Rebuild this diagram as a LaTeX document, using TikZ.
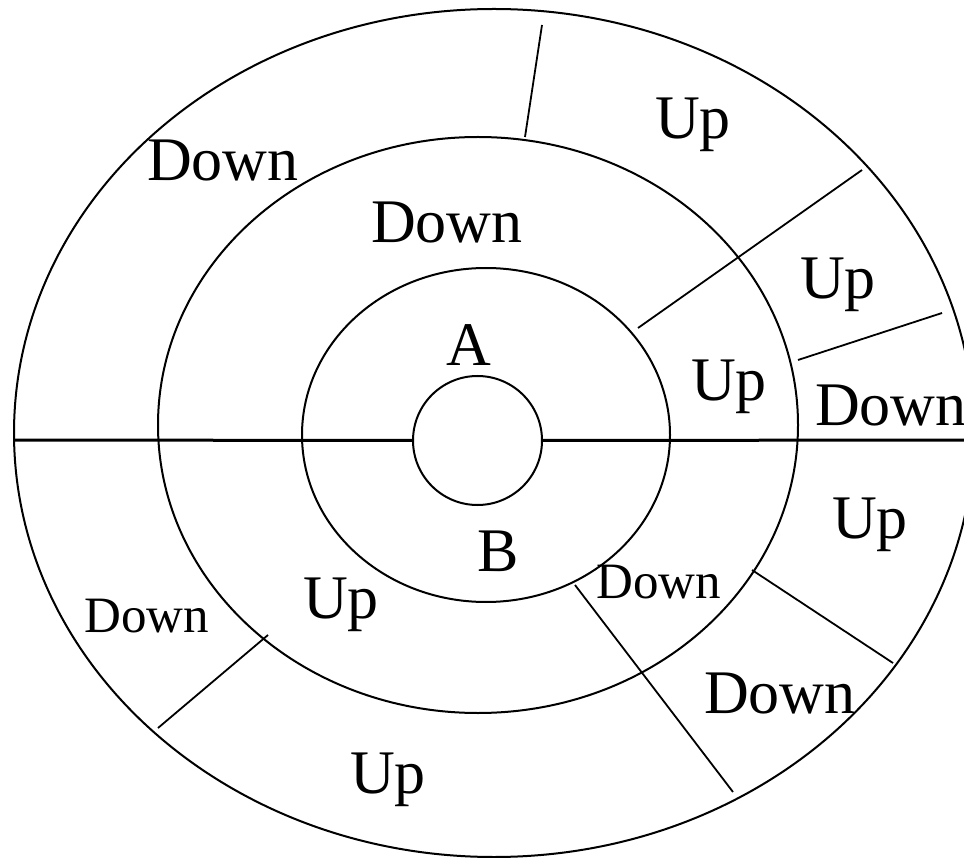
\documentclass[tikz,border=0pt]{standalone}
\usepackage{fontspec}
\setmainfont{Liberation Serif}
\usetikzlibrary{positioning}
\tikzset{
  ring/.style={draw=black, line width=2pt},
  axisline/.style={draw=black, line width=3pt},
  cut/.style={draw=black, line width=1.8pt},
  lab/.style={inner sep=0pt, anchor=base, font=\fontsize{62}{70}\selectfont},
  labs/.style={inner sep=0pt, anchor=base, font=\fontsize{51}{58}\selectfont},
}

\begin{document}
\begin{tikzpicture}[x=1pt, y=-1pt]
    \useasboundingbox (0,0) rectangle (964,858);
    % rings
    \draw[ring] (494,433) ellipse [x radius=480, y radius=424];
    \draw[ring] (478,425) ellipse [x radius=320, y radius=288];
    \draw[ring] (486,435) ellipse [x radius=184, y radius=167];
    \node[ring, circle, minimum size=129pt, inner sep=0pt] (hub) at (477.5,440.5) {};
    % axis
    \coordinate (axL) at (14,440);
    \coordinate (axR) at (975,440);
    \draw[axisline] (axL) -- (hub.west);
    \draw[axisline] (hub.east) -- (axR);
    % radial cuts
    \draw[cut] (542,25) -- (525,137);
    \draw[cut] (862,170) -- (638,328);
    \draw[cut] (942,313) -- (798,360);
    \draw[cut] (752,570) -- (893,663);
    \draw[cut] (575,585) -- (733,792);
    \draw[cut] (268,635) -- (158,728);
    % labels
    \node[lab] (dTL) at (223,181) {Down};
    \node[lab] (dTop) at (447,243) {Down};
    \node[lab] (uTR) at (693,139) {Up};
    \node[lab] (uR1) at (838,299) {Up};
    \node[lab] (uR2) at (729,401) {Up};
    \node[lab, anchor=base west] (dR) at (815,425) {Down};
    \node[lab] (a) at (469,366) {A};
    \node[lab] (b) at (498,571) {B};
    \node[labs] (dMid) at (659,598) {Down};
    \node[lab] (dBR) at (780,713) {Down};
    \node[lab] (uR3) at (870,538) {Up};
    \node[labs] (dBL) at (147,632) {Down};
    \node[lab] (uL) at (341,618) {Up};
    \node[lab] (uB) at (388,793) {Up};
  \end{tikzpicture}
\end{document}
